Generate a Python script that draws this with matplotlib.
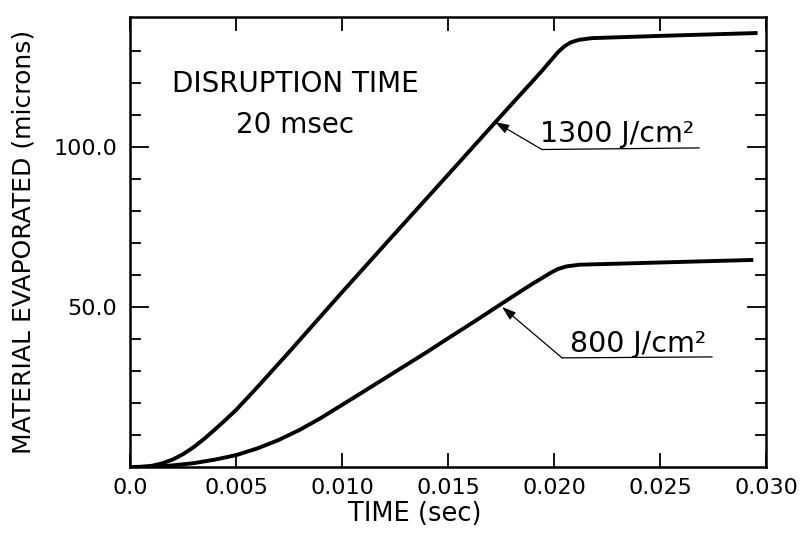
import numpy as np
import matplotlib
matplotlib.use("Agg")
import matplotlib.pyplot as plt

# curves: time (sec) vs material evaporated (microns)
t_1300 = [0, 0.0005, 0.001, 0.0015, 0.002, 0.0025, 0.003, 0.0035, 0.004, 0.0045,
          0.005, 0.006, 0.0075, 0.010, 0.0125, 0.015, 0.0172, 0.0185, 0.019,
          0.0195, 0.0199, 0.0202, 0.0205, 0.0208, 0.0212, 0.0218, 0.025, 0.0296]
y_1300 = [0, 0.05, 0.35, 1.1, 2.3, 4.0, 6.2, 8.8, 11.7, 14.7,
          17.8, 24.9, 35.9, 54.6, 73.0, 91.3, 107.5, 117.0, 120.6,
          124.3, 127.4, 129.7, 131.5, 132.7, 133.5, 134.0, 134.7, 135.6]

t_800 = [0, 0.001, 0.002, 0.003, 0.004, 0.005, 0.006, 0.007, 0.008, 0.009,
         0.010, 0.011, 0.0125, 0.014, 0.015, 0.0163, 0.0175, 0.0185, 0.019,
         0.0195, 0.0199, 0.0202, 0.0206, 0.0212, 0.025, 0.0294]
y_800 = [0, 0.1, 0.5, 1.2, 2.3, 3.7, 5.8, 8.4, 11.6, 15.3,
         19.4, 23.5, 29.7, 35.9, 40.2, 45.7, 50.9, 55.2, 57.3,
         59.3, 60.9, 61.9, 62.7, 63.2, 63.9, 64.7]

x_ticks = [0.0, 0.005, 0.010, 0.015, 0.020, 0.025, 0.030]
x_ticklabels = ["0.0", "0.005", "0.010", "0.015", "0.020", "0.025", "0.030"]
y_major = [50, 100]
y_ticklabels = ["50.0", "100.0"]
y_minor = [10, 20, 30, 40, 60, 70, 80, 90, 110, 120, 130]

# labels: (text, arrow tip, knee, underline end)
labels = ["1300 J/cm²", "800 J/cm²"]
tips = [(0.01722, 107.8), (0.01755, 50.0)]
knees = [(0.01943, 99.2), (0.02038, 34.1)]
line_ends = [(0.02684, 99.7), (0.02745, 34.4)]
text_pos = [(0.01934, 101.6), (0.02075, 35.9)]

fig = plt.figure(figsize=(8.1, 5.45), dpi=100)
ax = fig.add_axes([0.1605, 0.1431, 0.7852, 0.8257])

ax.plot(t_1300, y_1300, color="black", lw=2.8, solid_capstyle="butt", solid_joinstyle="round")
ax.plot(t_800, y_800, color="black", lw=2.8, solid_capstyle="butt", solid_joinstyle="round")

for lab, tip, knee, end, tp in zip(labels, tips, knees, line_ends, text_pos):
    ax.annotate("", xy=tip, xytext=knee,
                arrowprops=dict(arrowstyle="-|>,head_length=0.6,head_width=0.2",
                                lw=0.9, color="black",
                                mutation_scale=14, shrinkA=0, shrinkB=0))
    ax.plot([knee[0], end[0]], [knee[1], end[1]], color="black", lw=0.9)
    ax.text(tp[0], tp[1], lab, fontsize=20.5, va="baseline", ha="left")

ax.text(0.0078, 117.2, "DISRUPTION TIME", fontsize=20, ha="center", va="baseline")
ax.text(0.0078, 104.4, "20 msec", fontsize=20, ha="center", va="baseline")

ax.set_xlim(0, 0.030)
ax.set_ylim(0, 140.6)
ax.set_xticks(x_ticks)
ax.set_xticklabels(x_ticklabels)
ax.set_yticks(y_major)
ax.set_yticklabels(y_ticklabels)
ax.set_yticks(y_minor, minor=True)

ax.tick_params(which="both", direction="in", top=True, right=True, width=1.3)
ax.tick_params(which="major", axis="x", length=10, labelsize=16, pad=8)
ax.tick_params(which="major", axis="y", length=14, labelsize=16, pad=9)
ax.tick_params(which="minor", length=8)
for s in ax.spines.values():
    s.set_linewidth(1.8)

ax.set_xlabel("TIME (sec)", fontsize=18.5)
ax.xaxis.set_label_coords(0.448, -0.075)
ax.set_ylabel("MATERIAL EVAPORATED (microns)", fontsize=18)
ax.yaxis.set_label_coords(-0.148, 0.5)

fig.savefig("out.png", dpi=100)
